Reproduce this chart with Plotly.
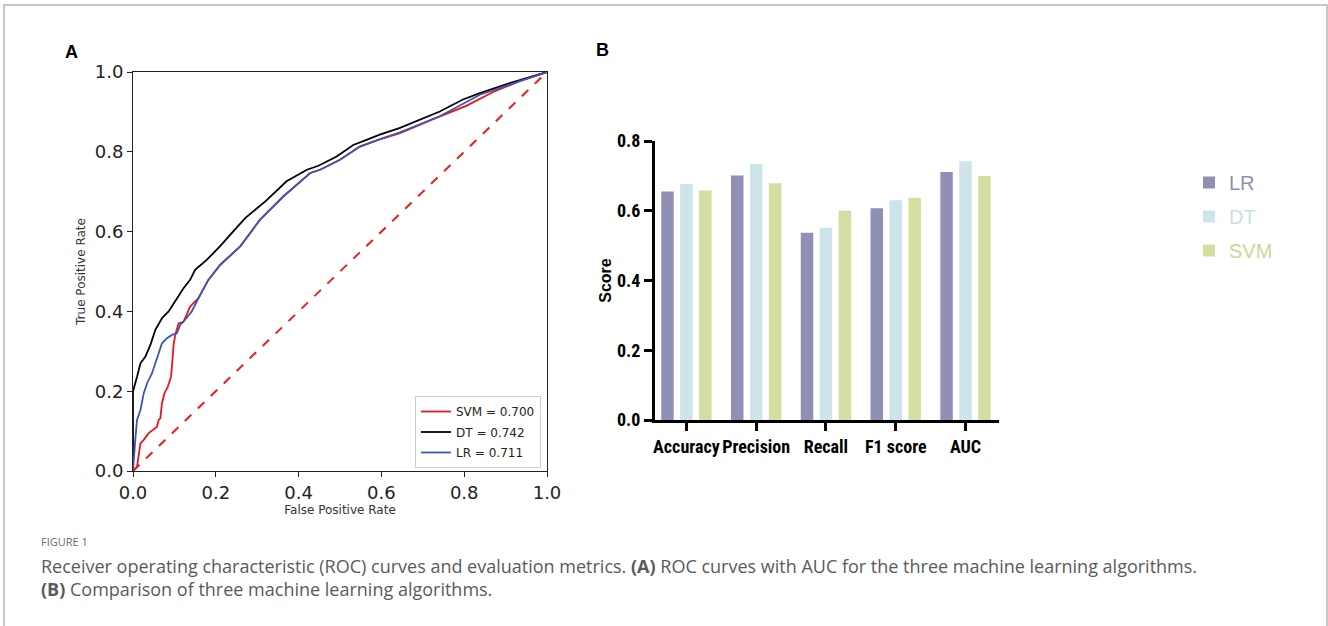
import plotly.graph_objects as go

# ---------------- Panel A data: ROC curves ----------------
svm_fpr = [0, 0.0097, 0.018, 0.026, 0.038, 0.058, 0.062, 0.066, 0.070, 0.076, 0.084, 0.092, 0.096, 0.098,
           0.102, 0.110, 0.122, 0.130, 0.138, 0.158, 0.182, 0.211, 0.259, 0.307, 0.363, 0.428, 0.452, 0.500,
           0.548, 0.592, 0.645, 0.725, 0.805, 0.870, 0.934, 1.0]
svm_tpr = [0, 0.011, 0.069, 0.078, 0.095, 0.111, 0.128, 0.132, 0.170, 0.195, 0.211, 0.237, 0.287, 0.316,
           0.341, 0.370, 0.374, 0.391, 0.412, 0.433, 0.479, 0.517, 0.563, 0.630, 0.688, 0.747, 0.755, 0.780,
           0.813, 0.830, 0.847, 0.882, 0.915, 0.950, 0.977, 1.0]

dt_fpr = [0, 0, 0.010, 0.018, 0.030, 0.042, 0.054, 0.070, 0.086, 0.102, 0.122, 0.138, 0.150, 0.178, 0.211,
          0.240, 0.271, 0.319, 0.371, 0.420, 0.448, 0.492, 0.532, 0.564, 0.596, 0.645, 0.700, 0.741, 0.797,
          0.838, 0.910, 0.960, 1.0]
dt_tpr = [0, 0.200, 0.237, 0.270, 0.287, 0.316, 0.354, 0.383, 0.400, 0.425, 0.458, 0.479, 0.504, 0.529, 0.564,
          0.598, 0.634, 0.675, 0.726, 0.755, 0.765, 0.788, 0.817, 0.830, 0.843, 0.860, 0.883, 0.901, 0.931,
          0.947, 0.972, 0.987, 1.0]

lr_fpr = [0, 0.003, 0.0055, 0.0097, 0.018, 0.026, 0.034, 0.046, 0.054, 0.062, 0.070, 0.082, 0.094, 0.106,
          0.114, 0.126, 0.142, 0.158, 0.182, 0.211, 0.259, 0.307, 0.363, 0.428, 0.452, 0.500, 0.548, 0.592,
          0.645, 0.741, 0.838, 0.934, 1.0]
lr_tpr = [0, 0.050, 0.078, 0.128, 0.153, 0.195, 0.220, 0.245, 0.270, 0.299, 0.320, 0.333, 0.341, 0.345,
          0.366, 0.379, 0.400, 0.433, 0.479, 0.517, 0.563, 0.630, 0.688, 0.747, 0.755, 0.780, 0.813, 0.830,
          0.849, 0.889, 0.943, 0.977, 1.0]

chance = [0, 1]
roc_names = ["SVM = 0.700", "DT = 0.742", "LR = 0.711"]

# ---------------- Panel B data: metrics ----------------
metrics = ["Accuracy", "Precision", "Recall", "F1 score", "AUC"]
lr_scores = [0.655, 0.701, 0.537, 0.607, 0.711]
dt_scores = [0.677, 0.734, 0.551, 0.630, 0.742]
svm_scores = [0.658, 0.679, 0.600, 0.637, 0.700]
models = ["LR", "DT", "SVM"]

W, H = 1328, 626
def px(x):
    return x / W
def py(y):
    return 1 - y / H

fig = go.Figure()

# ROC curves
roc_styles = [("#e8161b", svm_fpr, svm_tpr), ("#000000", dt_fpr, dt_tpr), ("#3d56b3", lr_fpr, lr_tpr)]
for name, (col, fx, fy) in zip(roc_names, roc_styles):
    fig.add_trace(go.Scatter(x=fx, y=fy, mode="lines", name=name, legendgroup=name,
                             line=dict(color=col, width=1.8), xaxis="x", yaxis="y", legend="legend"))
fig.add_trace(go.Scatter(x=chance, y=chance, mode="lines", showlegend=False,
                         line=dict(color="#ee1c1c", width=2, dash="dash"), xaxis="x", yaxis="y"))

# Bars
bar_colors = ["#9090b6", "#cce4ea", "#d2dfa1"]
text_colors = ["#8f8fb8", "#c6e0e8", "#c9d898"]
for name, vals, col, tcol in zip(models, [lr_scores, dt_scores, svm_scores], bar_colors, text_colors):
    fig.add_trace(go.Bar(x=metrics, y=vals, name=f'<span style="color:{tcol}">{name}</span>',
                         marker=dict(color=col, line=dict(width=0)), xaxis="x2", yaxis="y2",
                         legend="legend2", legendgroup=name))

dejavu = "DejaVu Sans"
arial = "Liberation Sans, Arial"
narrow = "Liberation Sans Narrow, Arial Narrow, Roboto Condensed, Roboto"

fig.update_layout(
    width=W, height=H,
    margin=dict(l=0, r=0, t=0, b=0),
    paper_bgcolor="white", plot_bgcolor="white",
    showlegend=True,
    barmode="group", bargap=0.186, bargroupgap=0.34,
    xaxis=dict(domain=[px(133), px(547)], range=[0, 1], dtick=0.2, tickformat=".1f",
               showline=True, mirror=True, linecolor="#222", linewidth=1, ticks="outside",
               ticklen=5, tickcolor="#222", showgrid=False, zeroline=False, automargin=False,
               tickfont=dict(family=dejavu, size=18, color="#222"),
               title=dict(text="False Positive Rate", font=dict(family=dejavu, size=12, color="#333"),
                          standoff=0)),
    yaxis=dict(domain=[py(471), py(72)], range=[0, 1], dtick=0.2, tickformat=".1f",
               showline=True, mirror=True, linecolor="#222", linewidth=1, ticks="outside",
               ticklen=5, tickcolor="#222", showgrid=False, zeroline=False, automargin=False,
               tickfont=dict(family=dejavu, size=18, color="#222"),
               title=dict(text="True Positive Rate", font=dict(family=dejavu, size=12, color="#333"),
                          standoff=6)),
    xaxis2=dict(domain=[px(655), px(999)], range=[-0.45, 4.48], type="category", tickangle=0,
                showline=True, linecolor="black", linewidth=3, ticks="outside", ticklen=8,
                tickwidth=3, tickcolor="black", showgrid=False, zeroline=False, automargin=False,
                tickfont=dict(family=narrow, size=18, color="black", weight="bold"), anchor="y2"),
    yaxis2=dict(domain=[py(420), py(141)], range=[0, 0.8], dtick=0.2, tickformat=".1f",
                showline=True, linecolor="black", linewidth=3, ticks="outside", ticklen=8,
                tickwidth=3, tickcolor="black", showgrid=False, zeroline=False, automargin=False,
                tickfont=dict(family=narrow, size=18, color="black", weight="bold"), anchor="x2",
                title=dict(text="Score", font=dict(family=arial, size=16, color="black", weight="bold"),
                           standoff=2)),
    legend=dict(x=px(541), y=py(468), xanchor="right", yanchor="bottom",
                bgcolor="white", bordercolor="#cccccc", borderwidth=1,
                font=dict(family=dejavu, size=12, color="#222"), itemwidth=30,
                tracegroupgap=1.5),
    legend2=dict(x=px(1189), y=py(163), xanchor="left", yanchor="top",
                 bgcolor="rgba(0,0,0,0)", borderwidth=0,
                 font=dict(family=arial, size=20), tracegroupgap=5, itemwidth=30),
    shapes=[dict(type="rect", xref="paper", yref="paper", x0=px(4), x1=px(1327), y0=-0.05, y1=py(5),
                 line=dict(color="#b5b5b5", width=1.5), fillcolor="rgba(0,0,0,0)", layer="below")],
    annotations=[
        dict(text="<b>A</b>", x=px(63), y=py(52), xref="paper", yref="paper", xanchor="left",
             yanchor="middle", showarrow=False, font=dict(family=arial, size=18, color="black")),
        dict(text="<b>B</b>", x=px(594), y=py(50), xref="paper", yref="paper", xanchor="left",
             yanchor="middle", showarrow=False, font=dict(family=arial, size=18, color="black")),
        dict(text="FIGURE 1", x=px(39), y=py(541), xref="paper", yref="paper", xanchor="left",
             yanchor="middle", showarrow=False, font=dict(family="Open Sans", size=11, color="#6a6a6a")),
        dict(text="Receiver operating characteristic (ROC) curves and evaluation metrics. <b>(A)</b> ROC curves "
                  "with AUC for the three machine learning algorithms.",
             x=px(39), y=py(566), xref="paper", yref="paper", xanchor="left", yanchor="middle",
             showarrow=False, font=dict(family="Open Sans", size=18, color="#5a5a5a")),
        dict(text="<b>(B)</b> Comparison of three machine learning algorithms.",
             x=px(39), y=py(589), xref="paper", yref="paper", xanchor="left", yanchor="middle",
             showarrow=False, font=dict(family="Open Sans", size=18, color="#5a5a5a")),
    ],
)

fig.write_html("out.html", config={"displayModeBar": False},
               post_script="document.body.style.margin='0';document.body.style.overflow='hidden';")
